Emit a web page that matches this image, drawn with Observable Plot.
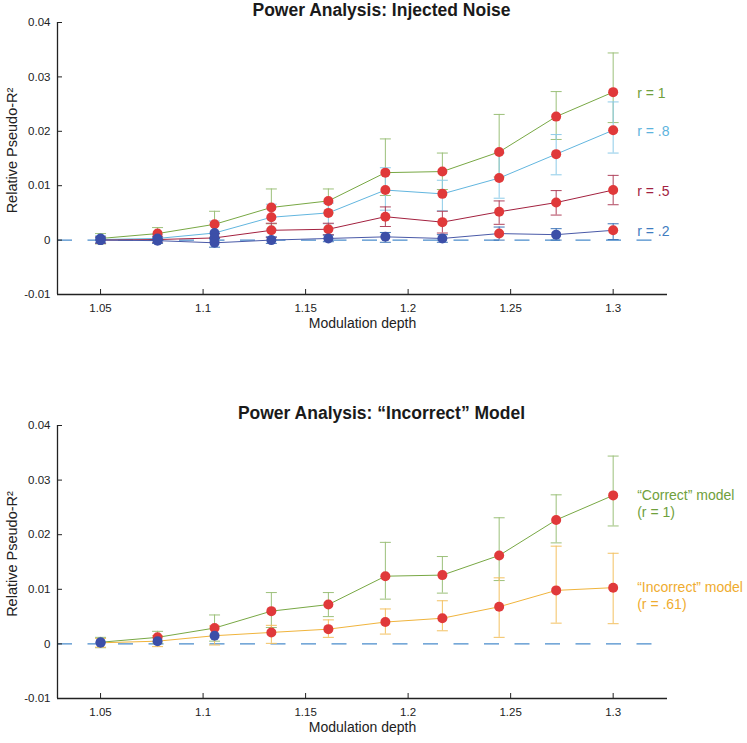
<!DOCTYPE html>
<html><head><meta charset="utf-8">
<script src="https://cdn.jsdelivr.net/npm/d3@7"></script>
<script src="https://cdn.jsdelivr.net/npm/@observablehq/plot@0.6"></script>
<style>
body{margin:0;background:#fff;}
#wrap{position:relative;width:747px;height:743px;font-family:"Liberation Sans",Arial,sans-serif;}
#top,#bottom{position:absolute;left:0;}
#top{top:0;} #bottom{top:370px;}
</style></head><body><div id="wrap"><div id="top"></div><div id="bottom"></div></div>
<script>
// ---------- data ----------
const depth = [1.05, 1.0778, 1.1056, 1.1333, 1.1611, 1.1889, 1.2167, 1.2444, 1.2722, 1.3];
const xTicks = [1.05, 1.1, 1.15, 1.2, 1.25, 1.3];
const yTicks = [-0.01, 0, 0.01, 0.02, 0.03, 0.04];

// r = 1 ("Correct" model)
const r1Mean = [0.0003, 0.0012, 0.0029, 0.0060, 0.0072, 0.0124, 0.0126, 0.0162, 0.0227, 0.0272];
const r1Lo   = [-0.0007, 0.0001, 0.0005, 0.0030, 0.0050, 0.0082, 0.0093, 0.0116, 0.0185, 0.0216];
const r1Hi   = [0.0012, 0.0023, 0.0053, 0.0094, 0.0094, 0.0186, 0.0160, 0.0231, 0.0273, 0.0344];
const r1Sig  = [0, 1, 1, 1, 1, 1, 1, 1, 1, 1];

// r = .8
const r08Mean = [0.0001, 0.0003, 0.0013, 0.0042, 0.0050, 0.0092, 0.0085, 0.0114, 0.0158, 0.0202];
const r08Lo   = [-0.0006, -0.0004, 0.0001, 0.0020, 0.0030, 0.0055, 0.0054, 0.0077, 0.0120, 0.0160];
const r08Hi   = [0.0008, 0.0010, 0.0035, 0.0066, 0.0068, 0.0133, 0.0110, 0.0160, 0.0194, 0.0254];
const r08Sig  = [0, 0, 0, 1, 1, 1, 1, 1, 1, 1];

// r = .5
const r05Mean = [0.0000, 0.0001, 0.0004, 0.0018, 0.0020, 0.0043, 0.0033, 0.0052, 0.0069, 0.0092];
const r05Lo   = [-0.0006, -0.0005, -0.0004, 0.0005, 0.0010, 0.0025, 0.0013, 0.0029, 0.0046, 0.0065];
const r05Hi   = [0.0006, 0.0007, 0.0012, 0.0031, 0.0031, 0.0061, 0.0053, 0.0072, 0.0091, 0.0119];
const r05Sig  = [0, 0, 0, 1, 1, 1, 1, 1, 1, 1];

// r = .2
const r02Mean = [0.0000, -0.0001, -0.0005, 0.0000, 0.0003, 0.0006, 0.0003, 0.0012, 0.0010, 0.0018];
const r02Lo   = [-0.0005, -0.0006, -0.0013, -0.0006, -0.0003, -0.0004, -0.0004, 0.0000, 0.0000, 0.0001];
const r02Hi   = [0.0005, 0.0004, 0.0003, 0.0006, 0.0009, 0.0014, 0.0010, 0.0024, 0.0021, 0.0030];
const r02Sig  = [0, 0, 0, 0, 0, 0, 0, 1, 0, 1];

// "Incorrect" model (r = .61)
const incMean = [0.0002, 0.0005, 0.0015, 0.0021, 0.0027, 0.0040, 0.0047, 0.0068, 0.0098, 0.0103];
const incLo   = [-0.0006, -0.0005, -0.0002, 0.0001, 0.0012, 0.0018, 0.0024, 0.0012, 0.0038, 0.0037];
const incHi   = [0.0010, 0.0015, 0.0033, 0.0034, 0.0044, 0.0064, 0.0079, 0.0121, 0.0179, 0.0166];
const incSig  = [0, 0, 0, 1, 1, 1, 1, 1, 1, 1];

const topTitle = "Power Analysis: Injected Noise";
const bottomTitle = "Power Analysis: \u201CIncorrect\u201D Model";
const xLabel = "Modulation depth";
const yLabel = "Relative Pseudo-R\u00B2";
const topLabels = ["r = 1", "r = .8", "r = .5", "r = .2"];
const bottomLabels = ["\u201CCorrect\u201D model\n(r = 1)", "\u201CIncorrect\u201D model\n(r = .61)"];

// ---------- styles ----------
const RED = "#e0393a", BLUE = "#3c4fa8", ZERO = "#4a8ccc", AXIS = "#222";
const cap = {draw(ctx, size) { const w = Math.sqrt(size / Math.PI); ctx.moveTo(-w, 0); ctx.lineTo(w, 0); }};

function series(mean, lo, hi, sig, line, bar, label, text) {
  return {rows: depth.map((x, i) => ({x, y: mean[i], lo: lo[i], hi: hi[i], sig: sig[i]})), line, bar, label, text};
}

function chart({title, list, height, marginTop, marginBottom, multiline}) {
  const marks = [
    Plot.ruleY([0], {stroke: ZERO, strokeWidth: 1.2, strokeDasharray: "15,15.5"})
  ];
  for (const s of list) {
    marks.push(Plot.ruleX(s.rows, {x: "x", y1: "lo", y2: "hi", stroke: s.bar, strokeWidth: 1}));
    marks.push(Plot.dot(s.rows, {x: "x", y: "lo", symbol: cap, r: 5.5, stroke: s.bar, fill: "none", strokeWidth: 1}));
    marks.push(Plot.dot(s.rows, {x: "x", y: "hi", symbol: cap, r: 5.5, stroke: s.bar, fill: "none", strokeWidth: 1}));
  }
  for (const s of list) marks.push(Plot.line(s.rows, {x: "x", y: "y", stroke: s.line, strokeWidth: 1}));
  for (const s of list) marks.push(Plot.dot(s.rows.filter(d => d.sig), {x: "x", y: "y", r: 5, fill: RED, stroke: "none"}));
  for (const s of list) marks.push(Plot.dot(s.rows.filter(d => !d.sig), {x: "x", y: "y", r: 5, fill: BLUE, stroke: "none"}));
  // series labels at the end of each line
  for (const s of list) {
    const last = s.rows[s.rows.length - 1];
    marks.push(Plot.text([last], {x: "x", y: "y", text: () => s.label, dx: 24, dy: multiline ? -8 : 0,
      textAnchor: "start", lineAnchor: multiline ? "top" : "middle", lineHeight: 1.22, fill: s.text, fontSize: 14}));
  }
  // axes lines
  marks.push(Plot.ruleY([-0.01], {stroke: AXIS, strokeWidth: 1.3}));
  marks.push(Plot.ruleX([1.029], {stroke: AXIS, strokeWidth: 1.3}));
  // inward ticks
  marks.push(Plot.axisY(yTicks, {tickSize: 5, dx: 5, text: null, stroke: AXIS, label: null}));
  marks.push(Plot.axisX(xTicks, {tickSize: 5, dy: -5, text: null, stroke: AXIS, label: null}));
  // tick labels
  marks.push(Plot.axisY(yTicks, {tickSize: 0, tickPadding: 7, tickFormat: d => String(d), fontSize: 11.5, fill: AXIS, label: null}));
  marks.push(Plot.axisX(xTicks, {tickSize: 0, tickPadding: 9.5, tickFormat: d => String(d), fontSize: 11.5, fill: AXIS, label: null}));
  // titles
  marks.push(Plot.text([title], {text: d => d, frameAnchor: "top", lineAnchor: "middle", dx: 19, dy: -12, fontSize: 17.5, fontWeight: "bold", fill: "#1a1a1a"}));
  marks.push(Plot.text([xLabel], {text: d => d, frameAnchor: "bottom", lineAnchor: "middle", dy: 29, fontSize: 14, fill: "#222"}));
  marks.push(Plot.text([yLabel], {text: d => d, frameAnchor: "left", textAnchor: "middle", lineAnchor: "middle", rotate: -90, dx: -45, dy: -8, fontSize: 14.5, fill: "#222"}));

  return Plot.plot({
    width: 747, height, marginTop, marginBottom, marginLeft: 57, marginRight: 80,
    style: {fontFamily: "'Liberation Sans', Arial, sans-serif", background: "white", overflow: "visible"},
    x: {domain: [1.029, 1.3265]},
    y: {domain: [-0.01, 0.04]},
    marks
  });
}

const topList = [
  series(r1Mean, r1Lo, r1Hi, r1Sig, "#78a844", "#9cc07a", topLabels[0], "#6fa03c"),
  series(r08Mean, r08Lo, r08Hi, r08Sig, "#62b6df", "#8dcbe8", topLabels[1], "#5db3dd"),
  series(r05Mean, r05Lo, r05Hi, r05Sig, "#a3213f", "#b0445d", topLabels[2], "#a3213f"),
  series(r02Mean, r02Lo, r02Hi, r02Sig, "#4a5aa8", "#3d74b8", topLabels[3], "#3f7cc0")
];
const bottomList = [
  series(r1Mean, r1Lo, r1Hi, r1Sig, "#78a844", "#9cc07a", bottomLabels[0], "#6fa03c"),
  series(incMean, incLo, incHi, incSig, "#f0b43c", "#f3c162", bottomLabels[1], "#efac2f")
];

document.getElementById("top").append(chart({title: topTitle, list: topList, height: 370, marginTop: 22, marginBottom: 76, multiline: false}));
document.getElementById("bottom").append(chart({title: bottomTitle, list: bottomList, height: 373, marginTop: 55, marginBottom: 45, multiline: true}));
</script>
</body></html>
